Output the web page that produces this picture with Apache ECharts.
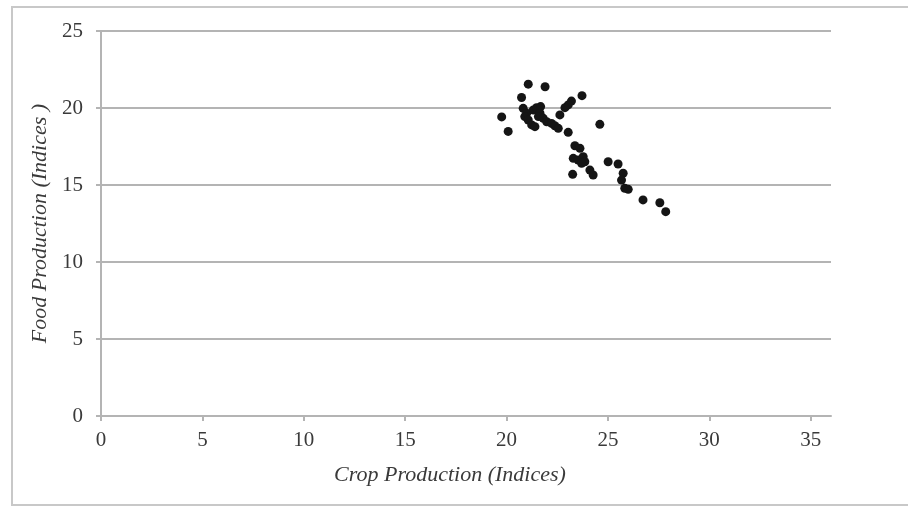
<!DOCTYPE html>
<html>
<head>
<meta charset="utf-8">
<script src="https://cdn.jsdelivr.net/npm/echarts@6/dist/echarts.min.js"></script>
<style>html,body{margin:0;padding:0;background:#fff}#c{width:908px;height:508px}</style>
</head>
<body>
<div id="c"></div>
<script>
var cropX = [21.07,21.9,20.74,23.72,23.2,23.04,22.88,22.63,19.76,20.08,20.82,20.99,20.9,21.07,21.24,21.4,21.32,21.48,21.68,21.65,21.57,21.81,21.98,22.22,22.38,22.55,23.04,24.6,23.37,23.62,23.29,23.53,23.78,23.86,23.7,23.26,24.11,24.27,25.01,25.5,25.75,25.67,25.83,26.0,26.73,27.56,27.85];
var foodY = [21.55,21.38,20.68,20.8,20.45,20.2,20.02,19.55,19.42,18.48,19.98,19.66,19.44,19.22,18.9,18.79,19.87,20.02,20.09,19.66,19.44,19.33,19.11,19.0,18.85,18.68,18.42,18.94,17.55,17.38,16.73,16.62,16.84,16.51,16.41,15.69,15.97,15.65,16.51,16.36,15.76,15.32,14.79,14.72,14.03,13.85,13.27];
var xTitle = 'Crop Production (Indices)';
var yTitle = 'Food Production (Indices )';

var pts = cropX.map(function(x, i){ return [x, foodY[i]]; });
var font = 'Liberation Serif';
var gray = '#b4b4b4';
var chart = echarts.init(document.getElementById('c'), null, {renderer:'canvas'});
chart.setOption({
  animation:false,
  backgroundColor:'#fff',
  graphic:[{type:'rect', shape:{x:12,y:7,width:1000,height:498}, style:{fill:'none', stroke:'#c8c8c8', lineWidth:2}, silent:true}],
  grid:{left:101,right:77,top:31,bottom:92},
  xAxis:{
    type:'value', min:0, max:36, interval:5,
    name:xTitle, nameLocation:'middle', nameGap:48,
    nameTextStyle:{fontFamily:font, fontStyle:'italic', fontSize:22, color:'#3a3a3a', padding:[0,32,0,0]},
    axisLine:{show:true, lineStyle:{color:gray, width:2}},
    axisTick:{show:true, length:5, lineStyle:{color:gray, width:2}},
    axisLabel:{fontFamily:font, fontSize:21, color:'#3a3a3a', margin:14, showMaxLabel:false},
    splitLine:{show:false}
  },
  yAxis:{
    type:'value', min:0, max:25, interval:5,
    name:yTitle, nameLocation:'middle', nameGap:43,
    nameTextStyle:{fontFamily:font, fontStyle:'italic', fontSize:22, color:'#3a3a3a'},
    axisLine:{show:true, lineStyle:{color:gray, width:2}},
    axisTick:{show:true, length:5, lineStyle:{color:gray, width:2}},
    axisLabel:{fontFamily:font, fontSize:21, color:'#3a3a3a', margin:18},
    splitLine:{show:true, lineStyle:{color:gray, width:2}}
  },
  series:[{
    type:'scatter', data:pts, symbol:'circle', symbolSize:9,
    itemStyle:{color:'#151515', opacity:1}
  }]
});
</script>
</body>
</html>
